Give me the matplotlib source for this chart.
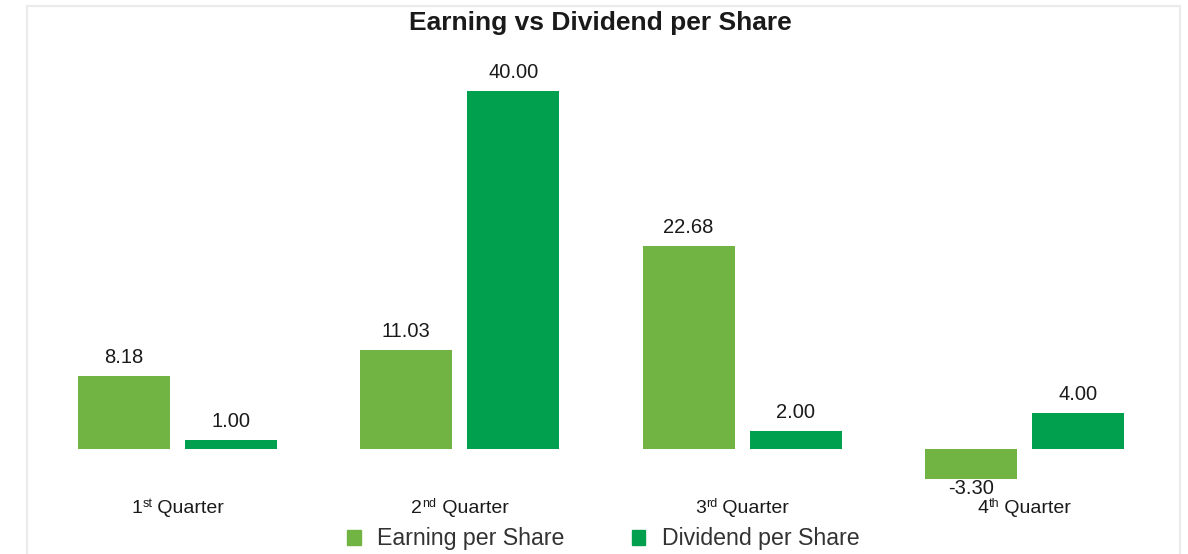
import matplotlib
matplotlib.use("Agg")
import matplotlib.pyplot as plt
from matplotlib.patches import Rectangle, Patch
import numpy as np

cat_nums = ["1", "2", "3", "4"]
cat_sups = ["st", "nd", "rd", "th"]
cat_word = " Quarter"
earning = [8.18, 11.03, 22.68, -3.30]
dividend = [1.00, 40.00, 2.00, 4.00]
series_names = ["Earning per Share", "Dividend per Share"]
colors = ["#72B444", "#00A04F"]

plt.rcParams['font.family'] = ['Liberation Sans', 'DejaVu Sans']

W, H = 1188, 554
fig = plt.figure(figsize=(W / 100, H / 100), dpi=100)

# frame
fig.patches.append(Rectangle((27 / W, -0.05), (1180 - 27) / W, 1.05 - 6 / H,
                             transform=fig.transFigure, fill=False,
                             edgecolor="#EBEBEB", linewidth=1.6))

ax_left, ax_right = 36.5, 1165.5
ax_top, ax_bot = 60, 480
ax = fig.add_axes([ax_left / W, 1 - ax_bot / H, (ax_right - ax_left) / W, (ax_bot - ax_top) / H])
ppu = (449 - 91) / 40.0
ax.set_ylim(-(ax_bot - 449) / ppu, (449 - ax_top) / ppu)
ax.set_xlim(-0.5, 3.5)
ax.axis("off")
ax.patch.set_alpha(0)

x = np.arange(len(cat_nums))
bw = 92 / 282
off = 107 / 2 / 282
b1 = ax.bar(x - off, earning, bw, color=colors[0])
b2 = ax.bar(x + off, dividend, bw, color=colors[1])

for bars, vals in ((b1, earning), (b2, dividend)):
    for r, v in zip(bars, vals):
        cx = r.get_x() + r.get_width() / 2
        if v >= 0:
            ax.annotate(f"{v:.2f}", (cx, v), xytext=(0, 6.5), textcoords="offset points",
                        ha="center", va="bottom", fontsize=14.5, color="#1a1a1a",
                        annotation_clip=False)
        else:
            ax.annotate(f"{v:.2f}", (cx, v), xytext=(0, -0.5), textcoords="offset points",
                        ha="center", va="top", fontsize=14.5, color="#1a1a1a",
                        annotation_clip=False)

# category labels with superscript ordinals
ylab = -(513 - 449) / ppu
groups = []
for i, (n, s) in enumerate(zip(cat_nums, cat_sups)):
    t_num = ax.text(i, ylab, n, ha="left", va="baseline", fontsize=14, color="#1a1a1a")
    t_sup = ax.annotate(s, xy=(1, ylab), xycoords=(t_num, "data"), xytext=(0.3, 4.3),
                        textcoords="offset points", ha="left", va="baseline",
                        fontsize=9, color="#1a1a1a", annotation_clip=False)
    t_rest = ax.annotate(cat_word, xy=(1, ylab), xycoords=(t_sup, "data"), ha="left",
                         va="baseline", fontsize=14, color="#1a1a1a", annotation_clip=False)
    groups.append((i, t_num, t_rest))

fig.canvas.draw()
inv = ax.transData.inverted()
for i, t_num, t_rest in groups:
    x0 = t_num.get_window_extent().x0
    x1 = t_rest.get_window_extent().x1
    cx_disp = ax.transData.transform((i, 0))[0]
    shift = cx_disp - (x0 + x1) / 2
    new_x = inv.transform((x0 + shift, 0))[0]
    t_num.set_position((new_x, ylab))

fig.text(600 / W, 1 - 23 / H, "Earning vs Dividend per Share", ha="center", va="center",
         fontsize=19, fontweight="bold", color="#1a1a1a")

handles = [Patch(color=c, label=n) for c, n in zip(colors, series_names)]
fig.legend(handles=handles, loc="center", bbox_to_anchor=(603 / W, 1 - 539 / H), ncol=2,
           frameon=False, fontsize=16.7, handlelength=0.6, handleheight=0.6,
           handletextpad=0.7, columnspacing=2.9, labelcolor="#333333",
           borderpad=0, borderaxespad=0)

fig.savefig("out.png", dpi=100)
